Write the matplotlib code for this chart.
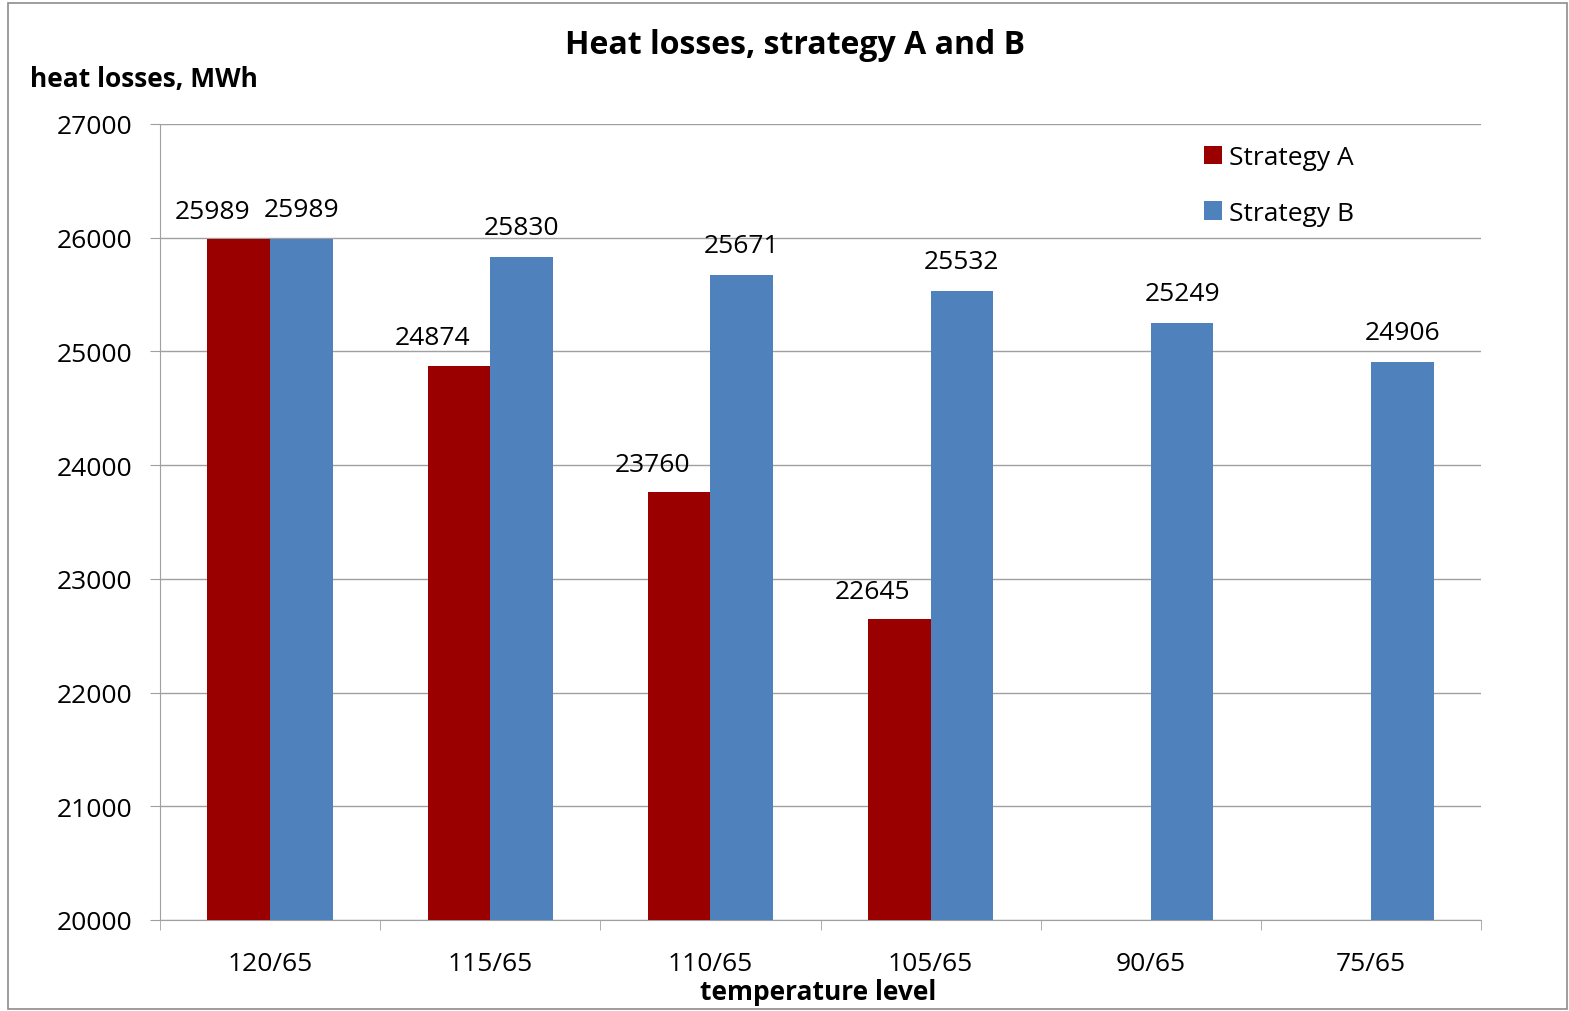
import matplotlib
matplotlib.use("Agg")
import matplotlib.pyplot as plt
import numpy as np

plt.rcParams['font.family'] = ['Open Sans', 'DejaVu Sans']

categories = ["120/65", "115/65", "110/65", "105/65", "90/65", "75/65"]
strategy_a = [25989, 24874, 23760, 22645, None, None]
strategy_b = [25989, 25830, 25671, 25532, 25249, 24906]

red = "#9b0000"
blue = "#4f81bd"
fs = 19

fig = plt.figure(figsize=(15.69, 10.12), dpi=100)
ax = fig.add_axes([160/1569, 1 - 921/1012, (1481-160)/1569, (921-125)/1012])

x = np.arange(len(categories))
w = 0.285
a_vals = [v if v is not None else np.nan for v in strategy_a]
ax.bar(x - w/2, a_vals, w, color=red, label="Strategy A", zorder=3)
ax.bar(x + w/2, strategy_b, w, color=blue, label="Strategy B", zorder=3)

for i, v in enumerate(strategy_a):
    if v is not None:
        ax.annotate(str(v), (x[i] - w/2 - 0.12, v), xytext=(0, 20), textcoords="offset points",
                    ha="center", va="center", fontsize=fs)
for i, v in enumerate(strategy_b):
    ax.annotate(str(v), (x[i] + w/2, v), xytext=(0, 21), textcoords="offset points",
                ha="center", va="center", fontsize=fs)

ax.set_xlim(-0.5, len(categories) - 0.5)
ax.set_ylim(20000, 27000)
ax.set_yticks(range(20000, 27001, 1000))
ax.set_xticks(x)
ax.set_xticklabels(categories)
ax.set_xticks(np.arange(-0.5, len(categories)), minor=True)
ax.tick_params(axis="x", which="major", length=0, labelsize=fs, pad=22)
ax.tick_params(axis="x", which="minor", length=7, color="#a0a0a0")
ax.tick_params(axis="y", length=7, color="#a0a0a0", labelsize=fs, pad=13)
ax.grid(axis="y", color="#a0a0a0", linewidth=1, zorder=0)
for s in ["top", "right"]:
    ax.spines[s].set_visible(False)
ax.spines["left"].set_color("#a0a0a0")
ax.spines["bottom"].set_color("#a0a0a0")

ax.legend(loc="upper left", bbox_to_anchor=(0.772, 1.003), frameon=False, fontsize=fs,
          handlelength=0.7, handleheight=0.7, handletextpad=0.25, labelspacing=1.15)

fig.text(795/1569, 1 - 45/1012, "Heat losses, strategy A and B", ha="center", va="center",
         fontsize=23, fontweight="bold")
fig.text(30/1569, 1 - 80/1012, "heat losses, MWh", ha="left", va="center",
         fontsize=fs, fontweight="bold")
fig.text(818/1569, 1 - 993/1012, "temperature level", ha="center", va="center",
         fontsize=fs, fontweight="bold")

fig.patches.append(plt.Rectangle((8/1569, 2/1012), 1 - 10/1569, 1 - 6/1012, transform=fig.transFigure,
                                 fill=False, edgecolor="#8c8c8c", linewidth=1.2))

fig.savefig("out.png", dpi=100)
